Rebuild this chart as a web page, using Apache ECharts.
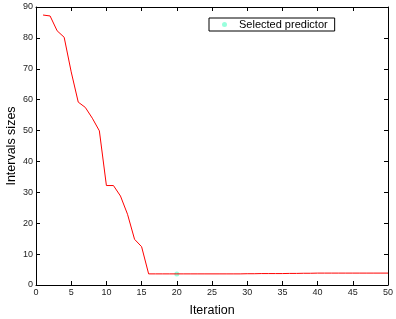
<!DOCTYPE html>
<html><head><meta charset="utf-8">
<script src="https://cdn.jsdelivr.net/npm/echarts@6/dist/echarts.min.js"></script>
<style>html,body{margin:0;padding:0;background:#fff}#c{width:396px;height:319px}</style>
</head><body><div id="c"></div>
<script>
var iterations = [1,2,3,4,5,6,7,8,9,10,11,12,13,14,15,16,17,18,19,20,21,22,23,24,25,26,27,28,29,30,31,32,33,34,35,36,37,38,39,40,41,42,43,44,45,46,47,48,49,50];
var intervalSizes = [87.4,87.1,82.3,80.2,69,59.2,57.5,54,49.9,32.2,32.2,28.8,22.9,14.8,12.4,3.6,3.6,3.6,3.6,3.6,3.6,3.6,3.6,3.6,3.6,3.6,3.6,3.6,3.6,3.65,3.65,3.7,3.7,3.7,3.7,3.75,3.75,3.8,3.8,3.85,3.85,3.85,3.85,3.85,3.85,3.85,3.85,3.85,3.85,3.85];
var selectedX = [20];
var selectedY = [3.6];
var font = 'Liberation Sans, Arial, sans-serif';
var chart = echarts.init(document.getElementById('c'));
function axisCommon(extra){
  return Object.assign({
    axisLine:{show:true,onZero:false,lineStyle:{color:'#000',width:1}},
    axisTick:{show:true,inside:true,length:4,lineStyle:{color:'#000'}},
    splitLine:{show:false}
  }, extra);
}
chart.setOption({
  animation:false,
  grid:{left:36,right:8,top:7,bottom:34,containLabel:false,outerBoundsMode:'none'},
  legend:{
    data:[{name:'Selected predictor',icon:'circle'}],
    left:209, top:18, orient:'horizontal',
    borderColor:'#000', borderWidth:1, backgroundColor:'#fff',
    padding:[1,7,1,13], itemWidth:5, itemHeight:5,
    textStyle:{fontFamily:font,fontSize:11,color:'#000',padding:[0,0,0,7]}
  },
  xAxis:[
    axisCommon({type:'value',min:0,max:50,interval:5,position:'bottom',
      name:'Iteration',nameLocation:'middle',nameGap:19.5,nameMoveOverlap:false,
      nameTextStyle:{fontFamily:font,fontSize:12.5,color:'#000'},
      axisLabel:{fontFamily:font,fontSize:9,color:'#222',margin:3}}),
    axisCommon({type:'value',min:0,max:50,interval:5,position:'top',
      axisLabel:{show:false}})
  ],
  yAxis:[
    axisCommon({type:'value',min:0,max:90,interval:10,position:'left',
      name:'Intervals sizes',nameLocation:'middle',nameGap:18,nameMoveOverlap:false,
      nameTextStyle:{fontFamily:font,fontSize:12.5,color:'#000'},
      axisLabel:{fontFamily:font,fontSize:9,color:'#222',margin:3}}),
    axisCommon({type:'value',min:0,max:90,interval:10,position:'right',
      axisLabel:{show:false}})
  ],
  series:[
    {type:'line',name:'Intervals',data:iterations.map(function(x,i){return [x,intervalSizes[i]];}),
      showSymbol:false,lineStyle:{color:'#ff0000',width:1},itemStyle:{color:'#ff0000'}},
    {type:'scatter',name:'Selected predictor',data:selectedX.map(function(x,i){return [x,selectedY[i]];}),
      symbol:'circle',symbolSize:5,itemStyle:{color:'#7fffd4'}}
  ]
});
</script></body></html>
